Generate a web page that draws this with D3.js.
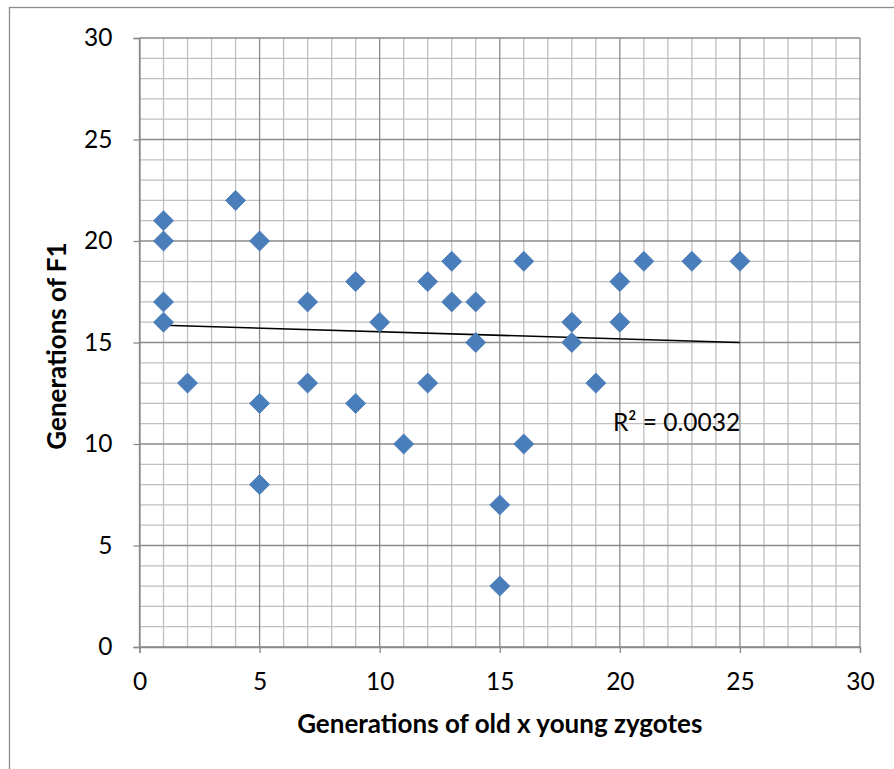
<!DOCTYPE html>
<html>
<head>
<meta charset="utf-8">
<script src="https://cdn.jsdelivr.net/npm/d3@7"></script>
<style>
  html, body { margin: 0; padding: 0; background: #fff; }
  svg { display: block; }
  text { font-family: Lato, "Open Sans", sans-serif; fill: #000; }
</style>
</head>
<body>
<svg id="chart" width="894" height="769"></svg>
<script>
// Generations of old x young zygotes (x) against generations of F1 (y)
const zygoteGenerations = [1, 1, 1, 1, 2, 4, 5, 5, 5, 7, 7, 9, 9, 10, 11, 12, 12, 13, 13, 14, 14, 15, 15, 16, 16, 18, 18, 19, 20, 20, 21, 23, 25];
const f1Generations     = [21, 20, 17, 16, 13, 22, 20, 12, 8, 17, 13, 18, 12, 16, 10, 18, 13, 19, 17, 17, 15, 7, 3, 19, 10, 16, 15, 13, 18, 16, 19, 19, 19];

// Linear trend line end points
const trendX = [1, 25];
const trendY = [15.85, 15.0];
const rSquaredLabel = "R² = 0.0032";

const xTicks = [0, 5, 10, 15, 20, 25, 30];
const yTicks = [0, 5, 10, 15, 20, 25, 30];

const xTitle = "Generations of old x young zygotes";
const yTitle = "Generations of F1";

const svg = d3.select("#chart");

// Chart frame
svg.append("rect")
  .attr("x", 9.5).attr("y", 7.5)
  .attr("width", 900).attr("height", 800)
  .attr("fill", "#fff")
  .attr("stroke", "#8c8c8c").attr("stroke-width", 1.3);

const plot = { left: 139.5, right: 860, top: 38, bottom: 647 };

const x = d3.scaleLinear().domain([0, 30]).range([plot.left, plot.right]);
const y = d3.scaleLinear().domain([0, 30]).range([plot.bottom, plot.top]);

const g = svg.append("g");

// Minor grid (every 1 unit)
const minor = d3.range(0, 31).filter(v => v % 5 !== 0);
g.append("g").selectAll("line").data(minor).join("line")
  .attr("x1", d => x(d)).attr("x2", d => x(d))
  .attr("y1", plot.top).attr("y2", plot.bottom)
  .attr("stroke", "#c0c0c0").attr("stroke-width", 1.3);
g.append("g").selectAll("line").data(minor).join("line")
  .attr("y1", d => y(d)).attr("y2", d => y(d))
  .attr("x1", plot.left).attr("x2", plot.right)
  .attr("stroke", "#c0c0c0").attr("stroke-width", 1.3);

// Major grid (every 5 units)
g.append("g").selectAll("line").data(xTicks).join("line")
  .attr("x1", d => x(d)).attr("x2", d => x(d))
  .attr("y1", plot.top).attr("y2", plot.bottom)
  .attr("stroke", "#8a8a8a").attr("stroke-width", 1.3);
g.append("g").selectAll("line").data(yTicks).join("line")
  .attr("y1", d => y(d)).attr("y2", d => y(d))
  .attr("x1", plot.left).attr("x2", plot.right)
  .attr("stroke", "#8a8a8a").attr("stroke-width", 1.3);

// Axes
const xAxis = d3.axisBottom(x).tickValues(xTicks).tickSize(6).tickPadding(20).tickFormat(d3.format("d"));
const yAxis = d3.axisLeft(y).tickValues(yTicks).tickSize(6).tickPadding(21).tickFormat(d3.format("d"));

const gx = svg.append("g").attr("transform", `translate(0,${plot.bottom})`).call(xAxis);
const gy = svg.append("g").attr("transform", `translate(${plot.left},0)`).call(yAxis);
[gx, gy].forEach(a => {
  a.select(".domain").attr("stroke", "#8a8a8a").attr("stroke-width", 1.3);
  a.selectAll(".tick line").attr("stroke", "#8a8a8a").attr("stroke-width", 1.3);
  a.selectAll(".tick text")
    .attr("font-family", "Lato, 'Open Sans', sans-serif")
    .attr("font-size", 24.5).attr("fill", "#000");
});

// Trend line
svg.append("line")
  .attr("x1", x(trendX[0])).attr("y1", y(trendY[0]))
  .attr("x2", x(trendX[1])).attr("y2", y(trendY[1]))
  .attr("stroke", "#000").attr("stroke-width", 1.6);

// Data points (diamonds)
const points = zygoteGenerations.map((v, i) => ({ x: v, y: f1Generations[i] }));
const diamond = d3.symbol().type(d3.symbolSquare).size(200);
svg.append("g").selectAll("path").data(points).join("path")
  .attr("d", diamond)
  .attr("transform", d => `translate(${x(d.x)},${y(d.y)}) rotate(45)`)
  .attr("fill", "#4a7ebb")
  .attr("stroke", "#4677b5").attr("stroke-width", 0.8);

// R² label
svg.append("text")
  .attr("x", 613).attr("y", 431)
  .attr("font-size", 24.5)
  .text(rSquaredLabel);

// Axis titles
svg.append("text")
  .attr("x", (plot.left + plot.right) / 2).attr("y", 733)
  .attr("text-anchor", "middle")
  .attr("font-size", 26).attr("font-weight", "bold")
  .text(xTitle);

svg.append("text")
  .attr("transform", `translate(66,346) rotate(-90)`)
  .attr("text-anchor", "middle")
  .attr("font-size", 26).attr("font-weight", "bold")
  .text(yTitle);
</script>
</body>
</html>
